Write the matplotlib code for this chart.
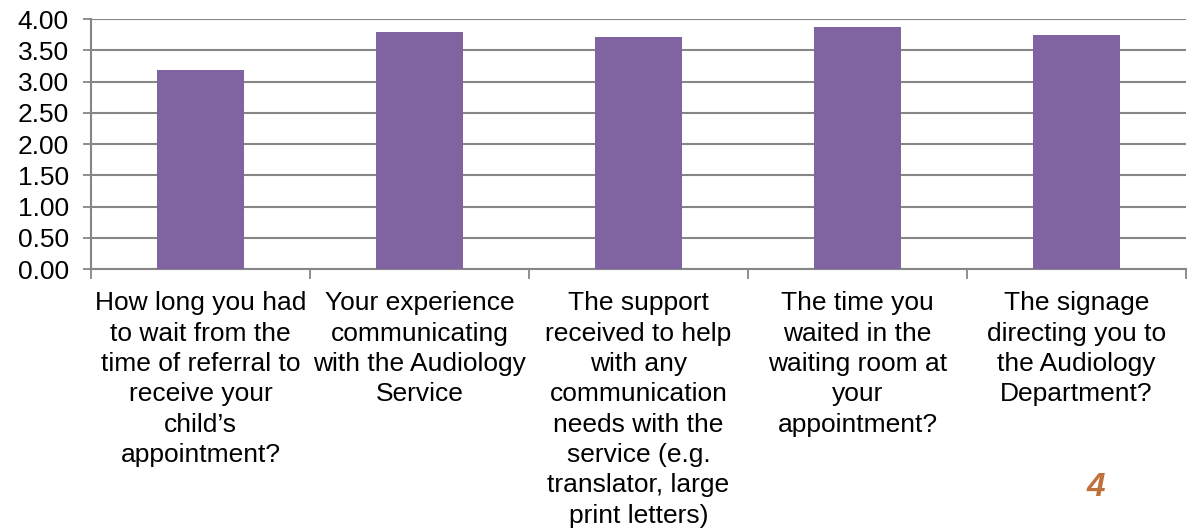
import matplotlib.pyplot as plt
from matplotlib.ticker import FixedLocator, MultipleLocator

plt.rcParams['font.family'] = ['Liberation Sans', 'DejaVu Sans']

categories = [
    "How long you had\nto wait from the\ntime of referral to\nreceive your\nchild\u2019s\nappointment?",
    "Your experience\ncommunicating\nwith the Audiology\nService",
    "The support\nreceived to help\nwith any\ncommunication\nneeds with the\nservice (e.g.\ntranslator, large\nprint letters)",
    "The time you\nwaited in the\nwaiting room at\nyour\nappointment?",
    "The signage\ndirecting you to\nthe Audiology\nDepartment?",
]
scores = [3.19, 3.79, 3.72, 3.87, 3.74]

bar_color = '#8064A2'
grid_color = '#868686'

fig = plt.figure(figsize=(11.92, 5.28), dpi=100)
ax = fig.add_axes([0.0763, 0.4905, 0.9187, 0.4735])

x = list(range(len(categories)))
ax.bar(x, scores, width=0.4, color=bar_color, zorder=3)

ax.set_xlim(-0.5, len(categories) - 0.5)
ax.set_ylim(0, 4)
ax.yaxis.set_major_locator(MultipleLocator(0.5))
ax.yaxis.set_major_formatter(plt.FuncFormatter(lambda v, p: f"{v:.2f}"))
ax.yaxis.grid(True, color=grid_color, linewidth=1.5, zorder=0)

ax.set_xticks(x)
ax.set_xticklabels(categories, fontsize=19, linespacing=1.335, va='top')
ax.xaxis.set_minor_locator(FixedLocator([i - 0.5 for i in range(len(categories) + 1)]))
ax.tick_params(axis='x', which='major', length=0, pad=16)
ax.tick_params(axis='x', which='minor', length=7, width=1.3, color=grid_color)
ax.tick_params(axis='y', length=6, width=1.3, color=grid_color, labelsize=19, pad=10)

for side in ['top', 'right']:
    ax.spines[side].set_visible(False)
for side in ['left', 'bottom']:
    ax.spines[side].set_color(grid_color)
    ax.spines[side].set_linewidth(1.5)

fig.text(0.919, 0.077, '4', color='#C0703A', fontsize=24, fontweight='bold',
         fontstyle='italic', ha='center', va='center')

fig.savefig('out.png', dpi=100)
